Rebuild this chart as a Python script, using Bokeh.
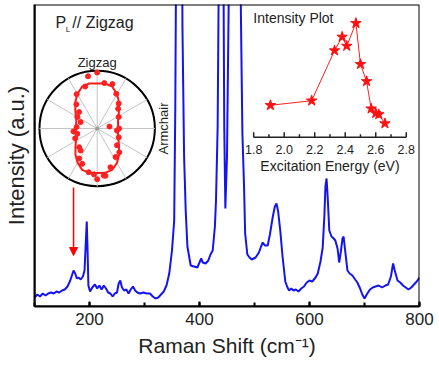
import numpy as np
from bokeh.plotting import figure
from bokeh.models import Range1d, FixedTicker, SingleIntervalTicker, Arrow, NormalHead, BoxAnnotation
from bokeh.core.properties import value
from bokeh.embed import file_html
from bokeh.resources import INLINE

# ---------------- data ----------------
raman_shift = [100, 105, 110, 115, 120, 125, 130, 135, 140, 145,
               150, 155, 160, 165, 168, 171, 174, 177, 180, 184,
               188, 191, 193, 195, 196.5, 198, 201, 205, 210, 214,
               218, 222, 226, 230, 234, 238, 242, 246, 250, 253,
               256, 259, 263, 267, 271, 275, 279, 283, 287, 292,
               298, 304, 310, 315, 320, 325, 330, 335, 340, 345,
               350, 354, 356, 358, 362, 366, 369, 372, 375, 378,
               384, 390, 396, 400, 403, 406, 411, 416, 420, 424,
               428, 430, 433, 436, 440, 443, 445, 447, 450, 453,
               458, 467, 473, 476, 478, 481, 483, 487, 491, 495,
               502, 508, 512, 515, 519, 524, 528, 533, 537, 540,
               543, 547, 551, 556, 560, 563, 567, 571, 575, 580,
               585, 590, 595, 600, 605, 611, 615, 620, 624, 627,
               629, 631, 633, 636, 640, 644, 647, 651, 654, 657,
               660, 662, 665, 669, 673, 678, 683, 687, 692, 696,
               700, 704, 710, 715, 720, 726, 732, 738, 743, 748,
               752, 755, 760, 765, 770, 775, 780, 785, 790, 795,
               800]
intensity = [9, 12, 10, 13, 11, 13, 14, 13, 15, 14,
             16, 17, 20, 26, 31, 36, 33, 28, 29, 27,
             30, 36, 61, 85, 56, 21, 15, 19, 22, 18,
             21, 17, 21, 18, 14, 13, 10, 13, 14, 23,
             26, 19, 16, 17, 13, 17, 20, 16, 14, 13,
             14, 13, 13, 10, 8, 9, 12, 15, 21, 33,
             56, 86, 200, 400, 900, 700, 280, 150, 95, 60,
             41, 40, 39, 44, 48, 44, 43, 46, 52, 56,
             80, 106, 180, 400, 900, 400, 180, 98, 150, 300,
             700, 1200, 400, 260, 173, 120, 73, 52, 49, 47,
             49, 54, 60, 64, 61, 61, 72, 89, 100, 103,
             95, 75, 50, 25, 19, 16, 18, 16, 17, 15,
             18, 20, 24, 26, 25, 29, 33, 45, 59, 90,
             120, 128, 110, 76, 70, 68, 66, 58, 44, 55,
             68, 70, 55, 36, 33, 31, 27, 24, 18, 12,
             8, 12, 17, 19, 20, 21, 19, 21, 22, 30,
             43, 36, 26, 24, 21, 19, 17, 19, 22, 25,
             29]

arrow_peak_shift = 171
arrow_top = 119
arrow_bottom = 51

# inset: intensity vs excitation energy
exc_energy = [1.91, 2.18, 2.33, 2.38, 2.41, 2.47, 2.50, 2.54, 2.57, 2.60, 2.62, 2.66]
exc_intensity = [0.28, 0.32, 0.76, 0.88, 0.80, 1.00, 0.64, 0.49, 0.25, 0.21, 0.20, 0.12]
energy_major_ticks = [1.8, 2.0, 2.2, 2.4, 2.6, 2.8]
energy_tick_labels = ["1.8", "2.0", "2.2", "2.4", "2.6", "2.8"]
energy_minor_ticks = [1.9, 2.1, 2.3, 2.5, 2.7]

# inset: polar plot (angle clockwise from Zigzag direction, radius in px)
polar_angle = [0, 350, 9, 19, 329, 41, 62, 81, 96, 112, 130, 263, 255, 224, 217,
               211, 203, 191, 184, 172, 161, 147, 312, 300, 291, 274, 29, 47, 180, 170,
               344, 90, 246, 319, 137]
polar_radius = [56, 53, 46, 47, 40, 33, 24.5, 12.5, 20, 23.4, 26, 24, 20.7, 26, 27.6,
                35, 38.4, 44.5, 46, 47.5, 41, 34, 24.5, 23, 17.8, 20.7, 39.6, 28.8, 50.7, 48,
                43.7, 22, 24.2, 31.9, 32.6]
fit_angle = [0, 10, 20, 30, 40, 50, 60, 70, 80, 90, 100, 110, 120, 130, 140, 150, 160, 170,
             180, 190, 200, 210, 220, 230, 240, 250, 260, 270, 280, 290, 300, 310, 320, 330, 340, 350, 360]
fit_radius = [45, 45.7, 44.5, 39.8, 34.2, 28.7, 24.8, 22.3, 21.3, 21, 21.3, 22.3, 24.8, 28.7, 34.2, 39.8, 44, 45,
              44.5, 45, 44, 39.5, 34, 28.5, 24.6, 22.2, 21.5, 21.8, 21.5, 22.3, 24.8, 28.7, 34.2, 39.8, 44.5, 45.7, 45]
spoke_angles = [0, 30, 60, 90, 120, 150, 180, 210, 240, 270, 300, 330]
polar_outer_radius = 58

# ---------------- layout (page pixels; the figure sits at the page origin) ----------------
W, H = 436, 362
FL, FR, FT, FB = 32, 419, 4, 306
POL_CX, POL_CY = 95, 128
EN_X0_PX, EN_X1_PX = 252.3, 405.7   # page x of 1.8 eV and 2.8 eV
EN_Y0_PX, EN_Y1_PX = 136.7, 22.7    # page y of inset intensity 0 and 1
FONT = "Liberation Sans"
TXT = "#222222"

p = figure(width=W, height=H, x_range=Range1d(100, 800), y_range=Range1d(0, FB - FT),
           output_backend="svg", toolbar_location=None,
           min_border_left=FL, min_border_right=W - FR,
           min_border_top=FT, min_border_bottom=H - FB)
p.grid.visible = False
p.outline_line_color = None
p.background_fill_color = "white"
p.border_fill_color = "white"

# extra ranges
sx = (EN_X1_PX - EN_X0_PX) / (2.8 - 1.8)
sy = (EN_Y0_PX - EN_Y1_PX) / 1.0
p.extra_x_ranges = {
    "ref_x": Range1d(FL, FR),
    "pol_x": Range1d(FL - POL_CX, FR - POL_CX),
    "en_x": Range1d(1.8 - (EN_X0_PX - FL) / sx, 2.8 + (FR - EN_X1_PX) / sx),
}
p.extra_y_ranges = {
    "ref_y": Range1d(FB, FT),
    "pol_y": Range1d(-(FB - POL_CY), POL_CY - FT),
    "en_y": Range1d(-(FB - EN_Y0_PX) / sy, (EN_Y0_PX - FT) / sy),
}

# axes
p.xaxis.ticker = SingleIntervalTicker(interval=200, num_minor_ticks=2)
p.xaxis.axis_label = "Raman Shift (cm\u207b\u00b9)"
p.xaxis.axis_label_text_font = FONT
p.xaxis.axis_label_text_font_size = "21px"
p.xaxis.axis_label_text_font_style = "normal"
p.xaxis.axis_label_text_color = TXT
p.xaxis.axis_label_standoff = 6
p.xaxis.major_label_text_font = FONT
p.xaxis.major_label_text_font_size = "17px"
p.xaxis.major_label_text_color = TXT
p.xaxis.major_label_standoff = 6
p.xaxis.major_tick_in = 5
p.xaxis.major_tick_out = 0
p.xaxis.minor_tick_in = 4
p.xaxis.minor_tick_out = 0
p.xaxis.axis_line_width = 2
p.xaxis.major_tick_line_width = 2
p.xaxis.minor_tick_line_width = 2

p.yaxis.ticker = FixedTicker(ticks=[])
p.yaxis.axis_label = "Intensity (a.u.)"
p.yaxis.axis_label_text_font = FONT
p.yaxis.axis_label_text_font_size = "22px"
p.yaxis.axis_label_text_font_style = "normal"
p.yaxis.axis_label_text_color = TXT
p.yaxis.axis_label_standoff = 6
p.yaxis.major_label_standoff = 0
p.yaxis.major_tick_in = 0
p.yaxis.major_tick_out = 0
p.yaxis.minor_tick_in = 0
p.yaxis.minor_tick_out = 0
p.yaxis.axis_line_width = 2

# spectrum
p.line(raman_shift, intensity, line_color="#1414f0", line_width=2)

# frame
p.add_layout(BoxAnnotation(left=100, right=800, bottom=0, top=FB - FT, fill_alpha=0,
                           line_color="black", line_width=2, line_alpha=1))

# arrow
p.add_layout(Arrow(end=NormalHead(size=8, fill_color="red", line_color="red"),
                   x_start=arrow_peak_shift, y_start=arrow_top,
                   x_end=arrow_peak_shift, y_end=arrow_bottom,
                   line_color="red", line_width=1.5))

# ---- polar inset ----
PR = dict(x_range_name="pol_x", y_range_name="pol_y")
p.circle(x=[0], y=[0], radius=polar_outer_radius, fill_color="white",
         line_color="black", line_width=2, **PR)
sa = np.radians(spoke_angles)
p.segment(x0=np.zeros(len(sa)), y0=np.zeros(len(sa)),
          x1=polar_outer_radius * np.sin(sa), y1=polar_outer_radius * np.cos(sa),
          line_color="#c4c4c4", line_width=1, **PR)
p.scatter(x=[0], y=[0], size=3, color="#999999", **PR)
fa = np.radians(fit_angle)
fr = np.array(fit_radius)
p.line(fr * np.sin(fa), fr * np.cos(fa), line_color="#ff1a1a", line_width=2, **PR)
pa = np.radians(polar_angle)
pr = np.array(polar_radius)
p.scatter(pr * np.sin(pa), pr * np.cos(pa), size=5, color="#ff2020", **PR)

# ---- energy inset ----
p.line(exc_energy, exc_intensity, line_color="#ff2020", line_width=1,
       x_range_name="en_x", y_range_name="en_y")
p.scatter(exc_energy, exc_intensity, marker="star", size=11, fill_color="#ff1010",
          line_color="#ff1010", x_range_name="en_x", y_range_name="en_y")
p.segment(x0=[1.8], y0=[EN_Y0_PX], x1=[2.8], y1=[EN_Y0_PX], line_color="#222222",
          line_width=1.5, x_range_name="en_x", y_range_name="ref_y")
p.segment(x0=energy_major_ticks, y0=[EN_Y0_PX] * len(energy_major_ticks),
          x1=energy_major_ticks, y1=[EN_Y0_PX - 5] * len(energy_major_ticks),
          line_color="#222222", line_width=1.5, x_range_name="en_x", y_range_name="ref_y")
p.segment(x0=energy_minor_ticks, y0=[EN_Y0_PX] * len(energy_minor_ticks),
          x1=energy_minor_ticks, y1=[EN_Y0_PX - 3] * len(energy_minor_ticks),
          line_color="#222222", line_width=1.5, x_range_name="en_x", y_range_name="ref_y")
p.text(x=energy_major_ticks, y=[EN_Y0_PX + 12.5] * len(energy_major_ticks), text=energy_tick_labels,
       text_font=value(FONT), text_font_size="12.5px", text_color=TXT,
       text_align="center", text_baseline="middle", x_range_name="en_x", y_range_name="ref_y")

# ---- text annotations (page pixel positions) ----
RR = dict(x_range_name="ref_x", y_range_name="ref_y")
def txt(x, y, s, size, align="left", angle=0.0):
    p.text(x=[x], y=[y], text=[s], text_font=value(FONT), text_font_size=size,
           text_color=TXT, text_align=align, text_baseline="middle", angle=angle, **RR)

txt(53, 22, "P", "16px")
txt(63.5, 29, "L", "8px")
txt(70, 22, "// Zigzag", "16px")
txt(POL_CX, 62, "Zigzag", "13px", "center")
txt(162, POL_CY, "Armchair", "13px", "center", np.pi / 2)
txt(252, 17, "Intensity Plot", "14px")
txt((EN_X0_PX + EN_X1_PX) / 2, 165, "Excitation Energy (eV)", "14px", "center")

open("out.html", "w").write(file_html(p, INLINE))
